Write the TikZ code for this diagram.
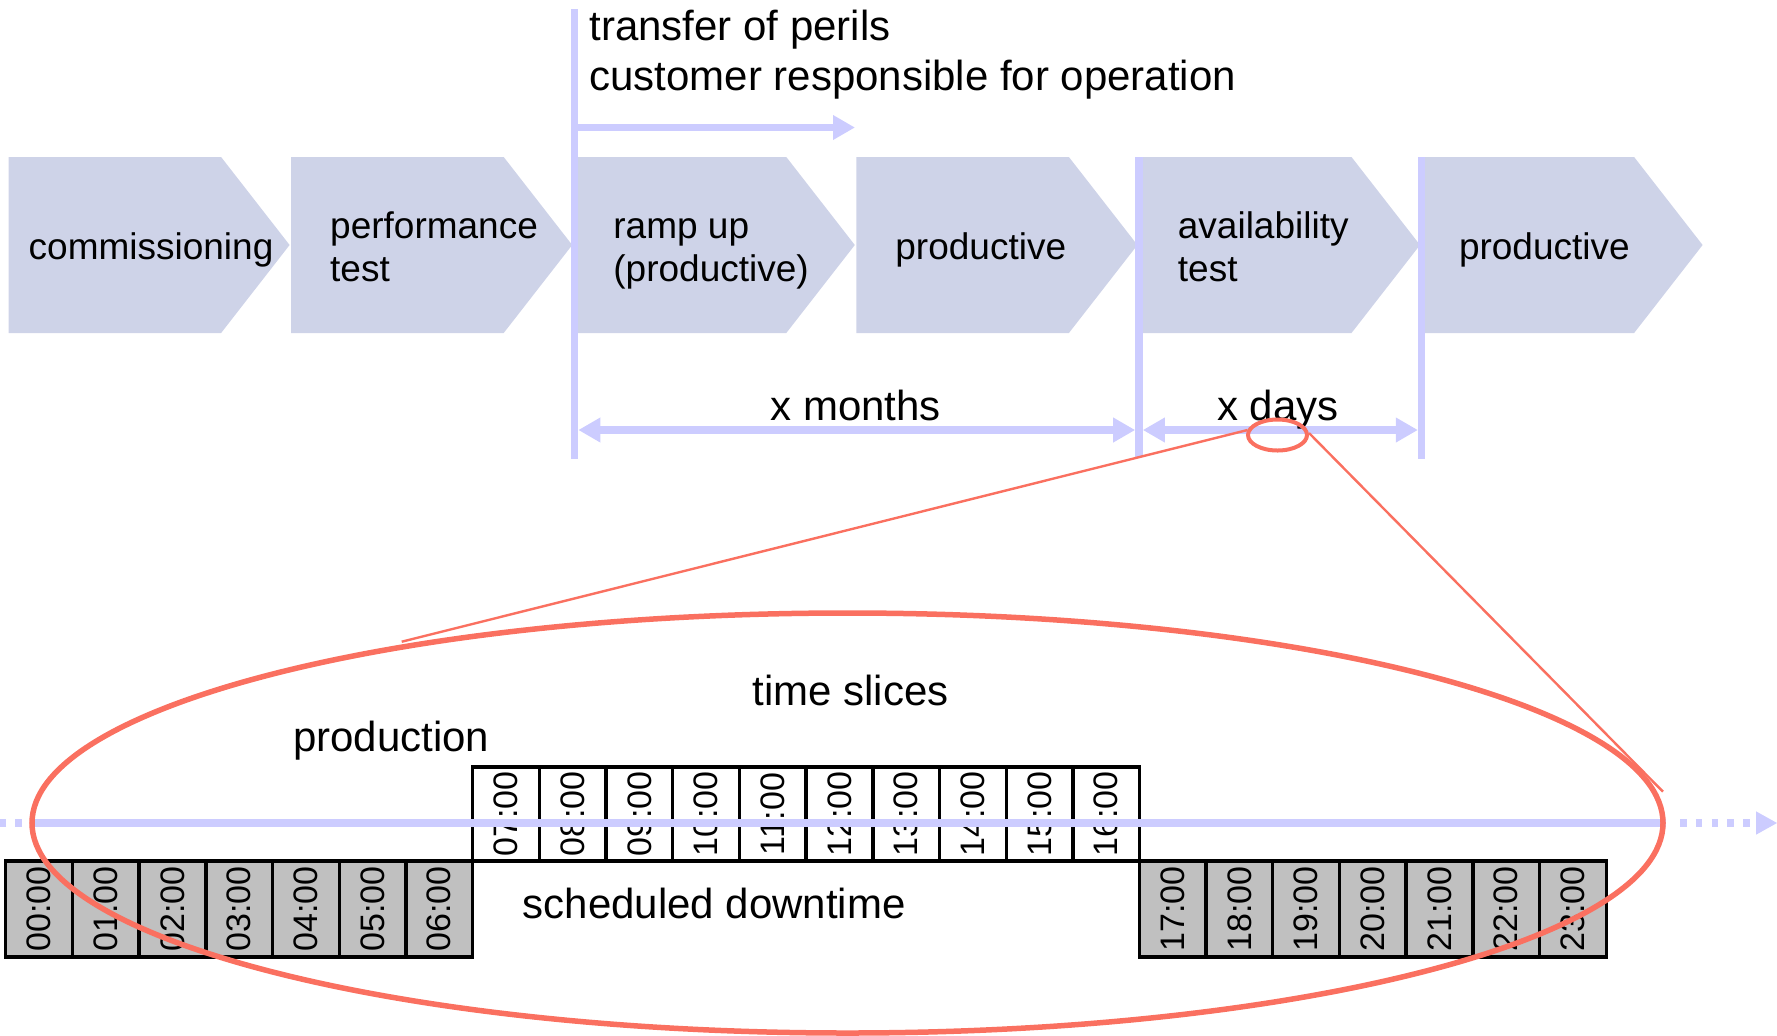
\documentclass[tikz,border=0pt]{standalone}
\usepackage{fontspec}
\setmainfont{Liberation Sans}
\usetikzlibrary{arrows.meta,calc,shapes.geometric}
\definecolor{lav}{RGB}{204,204,255}
\definecolor{chev}{RGB}{206,211,232}
\definecolor{redl}{RGB}{250,112,96}
\definecolor{cellgray}{RGB}{192,192,192}
\newcommand\fbig{\fontsize{21}{25}\selectfont}
\newcommand\fch{\fontsize{18.5}{21.5}\selectfont}
\newcommand\ftime{\fontsize{17}{17}\selectfont}
\tikzset{tri/.tip={Triangle[length=11pt,width=11.7pt]}}
\begin{document}
\begin{tikzpicture}[x=0.5pt,y=-0.5pt,
  lavline/.style={draw=lav, line width=3.7pt},
  chevshape/.style={fill=chev},
  chlabel/.style={anchor=base west, inner sep=0pt, font=\fch, align=left},
  biglabel/.style={inner sep=0pt, font=\fbig, align=left},
  cellp/.style={draw, line width=1.7pt, rotate=90, minimum width=47pt, minimum height=33.35pt, inner sep=0pt, font=\ftime, fill=white},
  celld/.style={cellp, fill=cellgray, minimum width=48pt},
  redthick/.style={draw=redl, line width=2.75pt},
  redthin/.style={draw=redl, line width=1.2pt}]
\useasboundingbox (0,0) rectangle (1777,1035);

% chevrons
\foreach \i in {0,...,5}{
  \fill[chevshape] ({8.6+282.6*\i},157) -- ++(212.5,0) -- ++(68.5,88) -- ++(-68.5,88) -- ++(-212.5,0) -- cycle;
}
% (multi-line labels: anchor base = baseline of last line)
\node[chlabel] (ch1) at (28.3,259.5) {commissioning};
\node[chlabel] (ch2) at (329.8,281) {performance\\test};
\node[chlabel] (ch3) at (613,281) {ramp up\\(productive)};
\node[chlabel] (ch4) at (895,259.5) {productive};
\node[chlabel] (ch5) at (1177.5,281) {availability\\test};
\node[chlabel] (ch6) at (1458.6,259.5) {productive};

% vertical markers
\coordinate (v1t) at (574.5,9);   \coordinate (v1b) at (574.5,459);
\coordinate (v2t) at (1139,157);  \coordinate (v2b) at (1139,457);
\coordinate (v3t) at (1421.7,157);\coordinate (v3b) at (1421.7,459);
\draw[lavline] (v1t) -- (v1b);
\draw[lavline] (v2t) -- (v2b);
\draw[lavline] (v3t) -- (v3b);

% top arrow and text
\coordinate (ta0) at (574.5,127.5); \coordinate (ta1) at (855,127.5);
\draw[lavline, -tri] (ta0) -- (ta1);
\node[biglabel, anchor=base west] (transfer) at (589,90) {transfer of perils\\customer responsible for operation};

% duration arrows
\coordinate (m0) at (578.3,430); \coordinate (m1) at (1135.2,430);
\coordinate (d0) at (1142.8,430); \coordinate (d1) at (1417.9,430);
\draw[lavline, tri-tri] (m0) -- (m1);
\draw[lavline, tri-tri] (d0) -- (d1);
\node[biglabel, anchor=base] (months) at (855.7,420) {x months};
\node[biglabel, anchor=base] (days) at (1278,420.5) {x days};

% time cells
\foreach \h [count=\n from 0] in {00,01,02,03,04,05,06}
  \node[celld] (d\n) at ({39.05+66.7*\n},909) {\h:00};
\foreach \h [count=\n from 0] in {07,08,09,10,11,12,13,14,15,16}
  \node[cellp] (p\n) at ({505.95+66.7*\n},814) {\h:00};
\foreach \h [count=\n from 0] in {17,18,19,20,21,22,23}
  \node[celld] (e\n) at ({1172.65+66.7*\n},909) {\h:00};

% labels
\node[biglabel, anchor=base] (slices) at (850.6,705) {time slices};
\node[biglabel, anchor=base west] (prod) at (292.8,751.7) {production};
\node[biglabel, anchor=base west] (down) at (522.4,918) {scheduled downtime};

% timeline
\coordinate (tl0) at (30,823); \coordinate (tl1) at (1666,823);
\draw[lavline] (tl0) -- (tl1);
\coordinate (tla) at (21.7,823); \coordinate (tlb) at (-1,823);
\draw[lavline, dash pattern=on 3.35pt off 4.5pt] (tla) -- (tlb);
\coordinate (tlc) at (1680,823); \coordinate (tld) at (1751,823);
\draw[lavline, dash pattern=on 3.3pt off 4.6pt] (tlc) -- (tld);
\coordinate (tle) at (1777,823);
\fill[lav] (1756,811.3) -- (tle) -- (1756,834.7) -- cycle;

% zoom ellipses
\node[ellipse, redthick, minimum width=815.5pt, minimum height=210pt, inner sep=0pt] (big) at (847.5,823) {};
\node[ellipse, draw=redl, line width=2pt, minimum width=29.5pt, minimum height=15.5pt, inner sep=0pt] (small) at (1277.5,435) {};
\coordinate (z1) at (401.7,641.7);
\coordinate (z2) at (1663,791.7);
\coordinate (s1) at (1247.5,430);
\coordinate (s2) at (1309,433);
\draw[redthin] (s1) -- (z1);
\draw[redthin] (s2) -- (z2);
\end{tikzpicture}
\end{document}
